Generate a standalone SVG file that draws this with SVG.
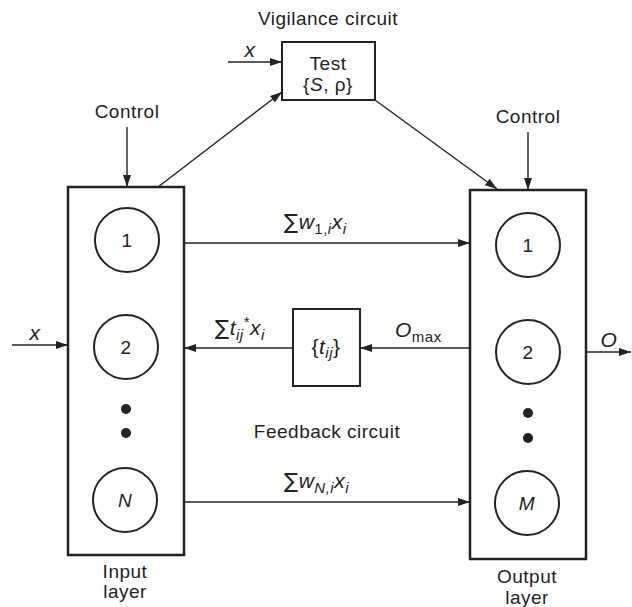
<svg xmlns="http://www.w3.org/2000/svg" width="632" height="607" viewBox="0 0 632 607">
<style>
text{font-family:"Liberation Sans",Arial,sans-serif;fill:#222;font-size:19px;letter-spacing:0.5px}
.c{text-anchor:middle}
.i{font-style:italic}
.box{fill:none;stroke:#222;stroke-width:2.5}
.nd{fill:none;stroke:#222;stroke-width:2}
.ln{fill:none;stroke:#222;stroke-width:1.4;marker-end:url(#ah)}
.dot{fill:#222}
.sub{font-size:15px}
.sig{font-family:"DejaVu Sans",sans-serif;font-size:21px}
.m{font-size:21px}
</style>
<defs>
<marker id="ah" viewBox="0 0 12 8" refX="12" refY="4" markerWidth="12" markerHeight="8" markerUnits="userSpaceOnUse" orient="auto">
<path d="M0,0 L12,4 L0,8 z" fill="#222"/>
</marker>
</defs>
<rect width="632" height="607" fill="#fff"/>

<g id="input-layer">
<rect class="box" x="68" y="187" width="116" height="368"/>
<text class="c" x="125" y="578">Input</text>
<text class="c" x="125" y="598">layer</text>
</g>
<g id="in1"><circle class="nd" cx="127" cy="240" r="32"/><text class="c" x="127" y="247">1</text></g>
<g id="in2"><circle class="nd" cx="126" cy="347" r="32"/><text class="c" x="126" y="354">2</text></g>
<g id="in-dots"><circle class="dot" cx="126" cy="409" r="5"/><circle class="dot" cx="126" cy="433" r="5"/></g>
<g id="inN"><circle class="nd" cx="125" cy="500" r="32"/><text class="c i" x="125" y="507">N</text></g>

<g id="output-layer">
<rect class="box" x="470" y="190" width="116" height="369"/>
<text class="c" x="527" y="583">Output</text>
<text class="c" x="527" y="604">layer</text>
</g>
<g id="out1"><circle class="nd" cx="528" cy="245" r="32"/><text class="c" x="528" y="252">1</text></g>
<g id="out2"><circle class="nd" cx="528" cy="352" r="32"/><text class="c" x="528" y="359">2</text></g>
<g id="out-dots"><circle class="dot" cx="528" cy="413" r="5"/><circle class="dot" cx="528" cy="438" r="5"/></g>
<g id="outM"><circle class="nd" cx="527" cy="503" r="32"/><text class="c i" x="527" y="510">M</text></g>

<g id="vigilance">
<rect class="box" x="282" y="42" width="93" height="58" style="stroke-width:2"/>
<text class="c" x="328" y="25">Vigilance circuit</text>
<text class="c" x="328" y="70">Test</text>
<text class="c" x="328" y="91">{<tspan class="i">S</tspan>, ρ}</text>
</g>

<g id="feedback">
<rect class="box" x="293" y="309" width="67" height="77" style="stroke-width:2"/>
<text class="c m" x="326" y="354">{<tspan class="i">t<tspan class="sub" dy="4">ij</tspan></tspan><tspan dy="-4">}</tspan></text>
<text class="c" x="327" y="438">Feedback circuit</text>
</g>

<g id="labels">
<text class="c" x="127" y="118">Control</text>
<text class="c" x="528" y="123">Control</text>
<text class="c i m" x="250" y="57">x</text>
<text class="c i m" x="35" y="340">x</text>
<text class="c i m" x="609" y="347">O</text>
<text class="m" x="284" y="229"><tspan class="sig">∑</tspan><tspan class="i">w</tspan><tspan class="sub" dy="5">1,<tspan class="i">i</tspan></tspan><tspan class="i" dy="-5">x</tspan><tspan class="sub i" dy="5">i</tspan></text>
<text class="m" x="284" y="488"><tspan class="sig">∑</tspan><tspan class="i">w</tspan><tspan class="sub i" dy="5">N,i</tspan><tspan class="i" dy="-5">x</tspan><tspan class="sub i" dy="5">i</tspan></text>
<text class="m" x="215" y="335"><tspan class="sig">∑</tspan><tspan class="i">t</tspan><tspan class="sub i" dy="5">ij</tspan><tspan class="sub" dy="-13">*</tspan><tspan class="i" dy="8">x</tspan><tspan class="sub i" dy="5">i</tspan></text>
<text class="m" x="395" y="337"><tspan class="i">O</tspan><tspan class="sub" dy="5">max</tspan></text>
</g>

<g id="connectors">
<path class="ln" d="M12,345 L68,345"/>
<path class="ln" d="M127,127 L127,187"/>
<path class="ln" d="M528,132 L528,190"/>
<path class="ln" d="M158,187 L282,92"/>
<path class="ln" d="M228,62 L282,62"/>
<path class="ln" d="M375,100 L497,189"/>
<path class="ln" d="M184,243 L470,243"/>
<path class="ln" d="M470,348 L360,348"/>
<path class="ln" d="M293,348 L184,348"/>
<path class="ln" d="M184,502 L470,502"/>
<path class="ln" d="M586,352 L631,352"/>
</g>
</svg>
